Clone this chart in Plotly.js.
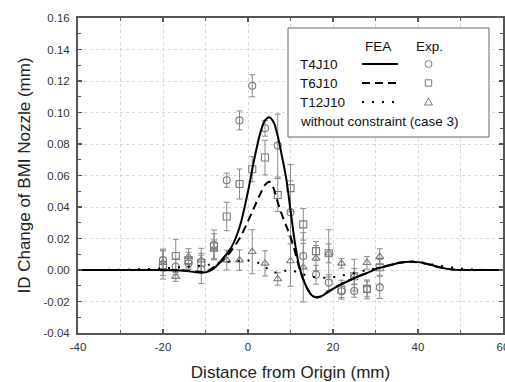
<!DOCTYPE html>
<html>
<head>
<meta charset="utf-8">
<script src="https://cdn.plot.ly/plotly-3.0.1.min.js"></script>
<style>html,body{margin:0;padding:0;background:#fff;}#chart{width:505px;height:382px;}</style>
</head>
<body>
<div id="chart"></div>
<script>
// FEA curves
const feaX = [-40,-30,-20,-15,-12,-10,-8,-6,-4,-2,0,1,2,3,4,5,6,7,8,9,10,11,12,13,14,15,16,17,18,20,22,24,26,28,30,32,34,36,38,40,42,44,46,48,50,55,60];
const t4j10 = [0,0,0,-0.0005,-0.0015,-0.0015,0.001,0.007,0.014,0.027,0.050,0.064,0.077,0.088,0.095,0.097,0.094,0.085,0.072,0.058,0.038,0.018,0.003,-0.006,-0.012,-0.016,-0.0175,-0.017,-0.0155,-0.012,-0.009,-0.0065,-0.004,-0.002,0.0005,0.002,0.0035,0.0048,0.0053,0.005,0.004,0.0025,0.0012,0.0004,0,0,0];
const t6j10 = [0,0,0,-0.0003,-0.001,-0.001,0.002,0.006,0.012,0.020,0.031,0.037,0.043,0.049,0.054,0.056,0.052,0.043,0.035,0.028,0.021,0.012,0.002,-0.006,-0.012,-0.016,-0.0172,-0.0168,-0.0152,-0.0118,-0.0088,-0.0063,-0.0038,-0.0018,0.0007,0.0022,0.0036,0.0048,0.0052,0.0049,0.0039,0.0024,0.0011,0.0003,0,0,0];
const dotX = [-40,-30,-25,-20,-15,-10,-8,-5,-2,0,2,4,6,8,10,12,14,17,20,22,25,28,31,35,38,41,44,48,52,56,60];
const t12j10 = [0,0.0002,0.0005,0.001,0.002,0.003,0.004,0.005,0.0058,0.006,0.005,0.002,-0.0015,-0.001,0,-0.002,-0.0035,-0.0048,-0.0045,-0.0035,-0.002,0,0.0015,0.004,0.0055,0.0048,0.0032,0.0016,0.0005,0,0];

// Experimental data
const expX = [-20,-17,-14,-11,-8,-5,-2,1,4,7,10,13,16,19,22,25,28,31];
const expT4 = [0.0063,0.0021,0.0042,0.0004,0.0159,0.057,0.095,0.117,0.090,0.079,0.0366,0.0089,-0.003,-0.008,-0.0135,-0.0133,-0.0123,-0.011];
const errT4 = [0.007,0.005,0.004,0.009,0.0095,0.0045,0.006,0.007,0.005,0.02,0.02,0.008,0.006,0.005,0.004,0.004,0.006,0.007];
const expT6 = [0.0032,0.0089,0.0063,0.0046,0.015,0.034,0.0546,0.064,0.0714,0.0476,0.052,0.029,0.012,0.0106,-0.0125,-0.004,-0.012,0.0017];
const errT6 = [0.009,0.0106,0.005,0.006,0.008,0.009,0.0095,0.008,0.011,0.0105,0.015,0.01,0.006,0.006,0.006,0.005,0.005,0.005];
const expT12 = [0.0046,-0.0042,0.0085,0.0063,0.0131,0.0063,0.0063,0.0116,0.0042,-0.0057,0.0057,0.0017,0.0075,0.0106,0.0042,-0.0032,0.0046,0.0085];
const errT12 = [0.008,0.003,0.005,0.0075,0.006,0.0063,0.0065,0.014,0.008,0.004,0.016,0.022,0.008,0.015,0.003,0.01,0.004,0.005];

const yTickVals = [-0.04,-0.02,0,0.02,0.04,0.06,0.08,0.10,0.12,0.14,0.16];
const yTickText = ['-0.04','-0.02','0.00','0.02','0.04','0.06','0.08','0.10','0.12','0.14','0.16'];
const xTickVals = [-40,-20,0,20,40,60];
const xTickText = ['-40','-20','0','20','40','60'];

const mk = '#7a7a7a';
function expTrace(y, err, sym) {
  return {x: expX, y: y, type: 'scatter', mode: 'markers',
    marker: {symbol: sym, size: 7, color: mk, line: {color: mk, width: 1.1}},
    error_y: {type: 'data', array: err, visible: true, color: '#8a8a8a', thickness: 1, width: 3},
    showlegend: false, hoverinfo: 'skip'};
}
const traces = [
  expTrace(expT12, errT12, 'triangle-up-open'),
  expTrace(expT6, errT6, 'square-open'),
  expTrace(expT4, errT4, 'circle-open'),
  {x: dotX, y: t12j10, type: 'scatter', mode: 'lines', line: {color: '#000', width: 2, dash: '2px,8px', shape: 'spline', smoothing: 1}, showlegend: false},
  {x: feaX, y: t6j10, type: 'scatter', mode: 'lines', line: {color: '#000', width: 2, dash: '8px,5px', shape: 'spline', smoothing: 1}, showlegend: false},
  {x: feaX, y: t4j10, type: 'scatter', mode: 'lines', line: {color: '#000', width: 2, shape: 'spline', smoothing: 1}, showlegend: false}
];

// legend helpers (paper coords)
const L = 78, R = 503, T = 18, B = 333;
function px(xp) { return (xp - L) / (R - L); }
function py(yp) { return (B - yp) / (B - T); }
const legFont = {family: 'Liberation Sans, Arial, sans-serif', size: 13.5, color: '#111'};
const annotations = [
  {text: 'FEA', x: px(378), y: py(46)},
  {text: 'Exp.', x: px(429), y: py(46)},
  {text: 'T4J10', x: px(298), y: py(64.5), xanchor: 'left'},
  {text: 'T6J10', x: px(298), y: py(83.5), xanchor: 'left'},
  {text: 'T12J10', x: px(298), y: py(102.5), xanchor: 'left'},
  {text: 'without constraint (case 3)', x: px(298), y: py(121.5), xanchor: 'left'}
].map(a => Object.assign({xref: 'paper', yref: 'paper', showarrow: false, font: legFont, xanchor: 'center', yanchor: 'middle'}, a));

const shapes = [
  {type: 'rect', xref: 'paper', yref: 'paper', x0: px(288), x1: px(489), y0: py(137), y1: py(28), line: {color: '#666', width: 1}, fillcolor: '#fff', layer: 'above'},
  {type: 'line', xref: 'paper', yref: 'paper', x0: px(362), x1: px(398), y0: py(64), y1: py(64), line: {color: '#000', width: 2}},
  {type: 'line', xref: 'paper', yref: 'paper', x0: px(362), x1: px(398), y0: py(83), y1: py(83), line: {color: '#000', width: 2, dash: '8px,5px'}},
  {type: 'line', xref: 'paper', yref: 'paper', x0: px(362), x1: px(396), y0: py(102), y1: py(102), line: {color: '#000', width: 2, dash: '2px,8px'}},
  {type: 'circle', xref: 'paper', yref: 'paper', xsizemode: 'pixel', ysizemode: 'pixel', xanchor: px(428.5), yanchor: py(64), x0: -3.5, x1: 3.5, y0: -3.5, y1: 3.5, line: {color: mk, width: 1}},
  {type: 'rect', xref: 'paper', yref: 'paper', xsizemode: 'pixel', ysizemode: 'pixel', xanchor: px(428.5), yanchor: py(83), x0: -3.2, x1: 3.2, y0: -3.2, y1: 3.2, line: {color: mk, width: 1}},
  {type: 'path', xref: 'paper', yref: 'paper', xsizemode: 'pixel', ysizemode: 'pixel', xanchor: px(428.5), yanchor: py(102), path: 'M -4 -3 L 4 -3 L 0 4 Z', line: {color: mk, width: 1}}
];

const axFont = {family: 'Liberation Sans, Arial, sans-serif', size: 11.5, color: '#333'};
const layout = {
  width: 505, height: 382,
  margin: {l: L, r: 505 - R, t: T, b: 382 - B},
  paper_bgcolor: '#fff', plot_bgcolor: '#fff',
  font: {family: 'Liberation Sans, Arial, sans-serif'},
  showlegend: false,
  xaxis: {range: [-40, 60], tickvals: xTickVals, ticktext: xTickText, ticks: 'inside', ticklen: 4, tickwidth: 1.2, tickcolor: '#555',
    showline: true, linecolor: '#555', linewidth: 2, mirror: 'allticks', zeroline: false,
    showgrid: true, gridcolor: '#d8d8d8', griddash: 'dot', gridwidth: 1,
    minor: {dtick: 10, tick0: 0, ticks: 'inside', ticklen: 3, tickwidth: 1.2, tickcolor: '#555', showgrid: true, gridcolor: '#d8d8d8', griddash: 'dot'},
    tickfont: axFont, ticklabeloverflow: 'allow', ticklabelstandoff: 2,
    title: {text: 'Distance from Origin (mm)', font: {family: 'Liberation Sans, Arial, sans-serif', size: 17, color: '#222'}, standoff: 14}},
  yaxis: {range: [-0.04, 0.16], tickvals: yTickVals, ticktext: yTickText, ticks: 'inside', ticklen: 4, tickwidth: 1.2, tickcolor: '#555',
    showline: true, linecolor: '#555', linewidth: 2, mirror: 'allticks', zeroline: false,
    showgrid: true, gridcolor: '#d8d8d8', griddash: 'dot', gridwidth: 1,
    minor: {dtick: 0.01, tick0: 0, ticks: 'inside', ticklen: 3, tickwidth: 1.2, tickcolor: '#555', showgrid: false},
    tickfont: axFont, ticklabelstandoff: 4,
    title: {text: 'ID Change of BMI Nozzle (mm)', font: {family: 'Liberation Sans, Arial, sans-serif', size: 17, color: '#222'}, standoff: 9}},
  annotations: annotations,
  shapes: shapes
};
Plotly.newPlot('chart', traces, layout, {staticPlot: true, displayModeBar: false});
</script>
</body>
</html>
